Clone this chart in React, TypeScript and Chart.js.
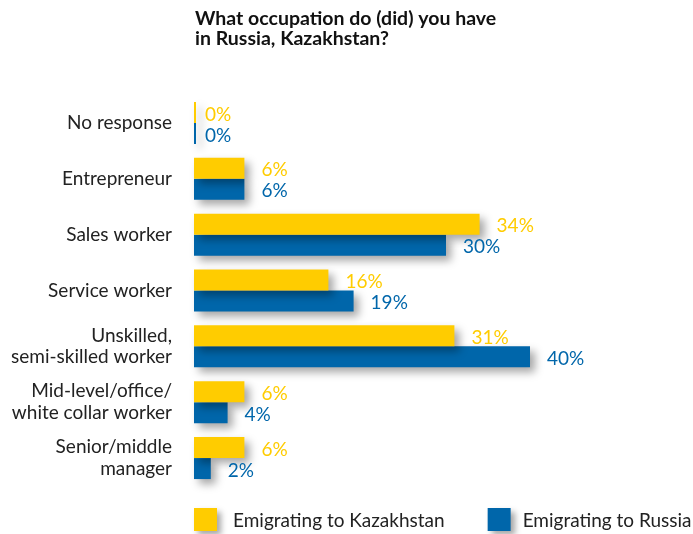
import React, { useEffect, useRef } from "react";
import { Chart, registerables } from "chart.js";

Chart.register(...registerables);

const categories: (string | string[])[] = [
  "No response",
  "Entrepreneur",
  "Sales worker",
  "Service worker",
  ["Unskilled,", "semi-skilled worker"],
  ["Mid-level/office/", "white collar worker"],
  ["Senior/middle", "manager"],
];
const kazakhstanValues = [0, 6, 34, 16, 31, 6, 6];
const russiaValues = [0, 6, 30, 19, 40, 4, 2];
const seriesNames = ["Emigrating to Kazakhstan", "Emigrating to Russia"];
const titleLines = ["What occupation do (did) you have", "in Russia, Kazakhstan?"];

const YELLOW = "#FFCC00";
const BLUE = "#0066AA";
const FONT = "Lato, 'Open Sans', sans-serif";

const shadowPlugin = {
  id: "barShadow",
  beforeDatasetsDraw(chart: any) {
    const ctx = chart.ctx;
    ctx.save();
    ctx.shadowColor = "rgba(0,0,0,0.35)";
    ctx.shadowBlur = 8;
    ctx.shadowOffsetX = 5;
    ctx.shadowOffsetY = 5;
  },
  afterDatasetsDraw(chart: any) {
    const ctx = chart.ctx;
    ctx.restore();
    ctx.save();
    ctx.font = `19px ${FONT}`;
    ctx.textAlign = "left";
    ctx.textBaseline = "middle";
    chart.data.datasets.forEach((ds: any, i: number) => {
      const meta = chart.getDatasetMeta(i);
      meta.data.forEach((el: any, j: number) => {
        const v = ds.data[j];
        ctx.fillStyle = ds.backgroundColor;
        ctx.fillText(`${v}%`, el.x + (v === 0 ? 9 : 17), el.y + 2);
      });
    });
    ctx.restore();
  },
};

const titleLegendPlugin = {
  id: "titleLegend",
  afterDraw(chart: any) {
    const ctx = chart.ctx;
    const left = chart.chartArea.left;
    ctx.save();
    ctx.fillStyle = "#111111";
    ctx.font = `bold 19.5px ${FONT}`;
    ctx.textAlign = "left";
    ctx.textBaseline = "alphabetic";
    ctx.fillText(titleLines[0], left + 1, 25);
    ctx.fillText(titleLines[1], left + 1, 45);

    // legend
    const boxY = chart.chartArea.bottom + 22;
    const box = 23;
    const textGaps = [16, 12];
    let x = left;
    ctx.font = `19px ${FONT}`;
    ctx.textBaseline = "middle";
    chart.data.datasets.forEach((ds: any, i: number) => {
      ctx.save();
      ctx.shadowColor = "rgba(0,0,0,0.35)";
      ctx.shadowBlur = 6;
      ctx.shadowOffsetX = 4;
      ctx.shadowOffsetY = 4;
      ctx.fillStyle = ds.backgroundColor;
      ctx.fillRect(x, boxY, box, box);
      ctx.restore();
      ctx.fillStyle = "#222222";
      const tx = x + box + textGaps[i];
      ctx.fillText(ds.label, tx, boxY + box / 2 + 1);
      const w = ctx.measureText(ds.label).width;
      x = tx + w + 43;
    });
    ctx.restore();
  },
};

export default function App() {
  const ref = useRef<HTMLCanvasElement | null>(null);
  useEffect(() => {
    if (!ref.current) return;
    const chart = new Chart(ref.current, {
      type: "bar",
      data: {
        labels: categories,
        datasets: [
          {
            label: seriesNames[0],
            data: kazakhstanValues,
            backgroundColor: YELLOW,
            barPercentage: 1,
            categoryPercentage: 0.752,
            minBarLength: 2,
            clip: false as any,
          },
          {
            label: seriesNames[1],
            data: russiaValues,
            backgroundColor: BLUE,
            barPercentage: 1,
            categoryPercentage: 0.752,
            minBarLength: 2,
            clip: false as any,
          },
        ],
      },
      options: {
        indexAxis: "y",
        animation: false,
        responsive: false,
        maintainAspectRatio: false,
        layout: { padding: { top: 95, bottom: 48, right: 79, left: 0 } },
        plugins: {
          legend: { display: false },
          title: { display: false },
          tooltip: { enabled: false },
        },
        scales: {
          x: { display: false, min: 0, max: 50 },
          y: {
            afterFit: (s: any) => {
              s.width = 194;
            },
            grid: { display: false, drawTicks: false },
            border: { display: false },
            ticks: {
              color: "#222222",
              font: { family: FONT, size: 19, lineHeight: 1.15 },
              padding: 22,
              crossAlign: "near",
            },
          },
        },
      },
      plugins: [shadowPlugin, titleLegendPlugin],
    });
    return () => chart.destroy();
  }, []);
  return (
    <div style={{ position: "fixed", left: 0, top: 0, width: 693, height: 534, background: "#fff" }}>
      <canvas ref={ref} width={693} height={534} style={{ width: 693, height: 534 }} />
    </div>
  );
}
